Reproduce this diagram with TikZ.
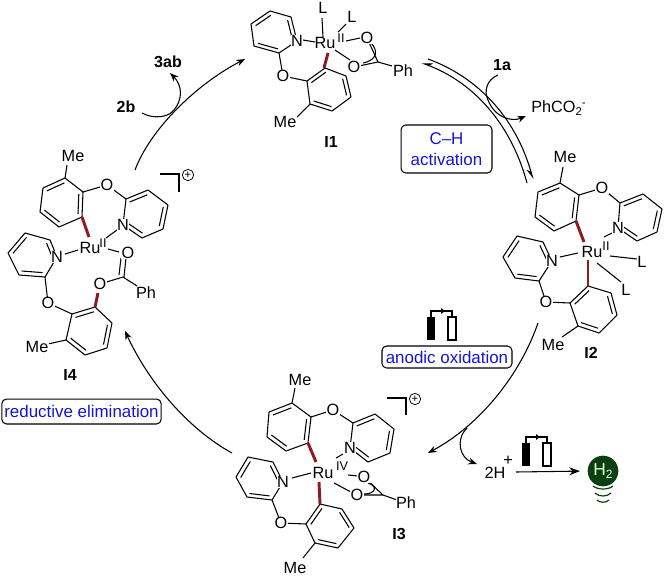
\documentclass[tikz,border=0pt]{standalone}
\usepackage{fontspec}
\setmainfont{Liberation Sans}
\usetikzlibrary{calc,arrows.meta}
\definecolor{rubond}{HTML}{8E1B1F}
\definecolor{bulbgreen}{HTML}{0B4010}
\definecolor{labelblue}{HTML}{1414D2}
\tikzset{
 bond/.style={line width=0.8pt,black,line join=round},
 redbond/.style={line width=2.2pt,rubond},
 atomlbl/.style={font=\fontsize{12.2}{13}\selectfont,inner sep=0.2pt,fill=white},
 sup/.style={font=\fontsize{9.5}{10}\selectfont,inner sep=0pt},
 cpdlbl/.style={font=\fontsize{12}{13}\selectfont\bfseries,inner sep=0pt},
 bluebox/.style={draw,line width=0.8pt,rounded corners=3.5pt,text=labelblue,font=\fontsize{12.7}{15.5}\selectfont,align=center,inner sep=0pt},
 cyc/.style={line width=0.8pt,-{Stealth[length=6.5pt,width=5pt]}},
 brk/.style={line width=0.8pt},
 plusc/.style={circle,draw,line width=0.55pt,minimum size=8.5pt,inner sep=0pt,font=\fontsize{8.5}{8.5}\selectfont},
}
\newcommand\ring[6]{%
 \draw[bond] (#1)--(#2)--(#3)--(#4)--(#5)--(#6)--cycle;
 \path coordinate (rc) at ($(#1)!.5!(#4)$);
 \draw[bond] ($(#1)!.2!(rc)$)--($(#2)!.2!(rc)$);
 \draw[bond] ($(#3)!.2!(rc)$)--($(#4)!.2!(rc)$);
 \draw[bond] ($(#5)!.2!(rc)$)--($(#6)!.2!(rc)$);
}
\newcommand\atom[3]{\node[atomlbl] (#1) at (#2) {#3};}
\newcommand\battery[3]{%
 \coordinate (#1a) at ($(#2,#3)+(-12.5,0)$);
 \coordinate (#1b) at ($(#2,#3)+(8.5,0)$);
 \draw[line width=0.8pt] (#1a) -- ++(0,-6) -- ($(#1b)+(0,-6)$) -- (#1b);
 \fill ($(#2,#3)+(-2.5,-9)$) -- ($(#2,#3)+(1.5,-6)$) -- ($(#2,#3)+(-2.5,-3)$) -- cycle;
 \fill[black] ($(#1a)+(-4,0)$) rectangle ($(#1a)+(4,23)$);
 \draw[line width=0.85pt,fill=white] ($(#1b)+(-4,0)$) rectangle ($(#1b)+(4,23)$);
}
\begin{document}
\begin{tikzpicture}[x=0.75pt,y=-0.75pt]
\useasboundingbox (0,0) rectangle (665,576);

% ---------- I1 ----------
\ring{297,41}{291,17}{270,11}{251,24}{254,46}{279,53}
\ring{307,81}{325,68}{346,76}{351,97}{332,111}{310,104}
\draw[bond] (279,53)--(283,76)--(307,81);
\draw[bond] (310,104)--(297,117);
\draw[bond] (303,40)--(315,42);
\draw[bond] (322,18)--(323,37);
\draw[bond] (338,32)--(346,24);
\draw[bond] (346,41)--(360,38);
\draw[bond] (335,50)--(350,60);
\draw[bond] (367,38)--(378,62)--(354,67);
\draw[bond] (378,62)--(392,66);
\draw[bond] (371,43) .. controls (378,50) and (378,60) .. (363,63);
\draw[redbond] (328,53)--(324,68);
\atom{i1N}{297,41}{N}
\atom{i1O}{283,76}{O}
\atom{i1Me}{285,122}{Me}
\node[atomlbl,fill=none] (i1Ru) at (325,43) {Ru};
\node[sup] (i1ox) at (341,38) {II};
\atom{i1La}{323,8}{L}
\atom{i1Lb}{352,17}{L}
\atom{i1Oa}{367,38}{O}
\atom{i1Ob}{354,67}{O}
\atom{i1Ph}{403,71}{Ph}
\node[cpdlbl] (i1lbl) at (331,142) {I1};

% ---------- I2 ----------
\ring{560,183}{538,192}{535,217}{554,231}{576,221}{579,195}
\ring{620,203}{643,194}{662,209}{657,232}{637,241}{618,228}
\ring{552,261}{543,242}{517,236}{503,257}{515,278}{539,281}
\ring{570,303}{588,286}{611,293}{617,315}{599,333}{578,326}
\draw[bond] (560,183)--(563,167);
\draw[bond] (579,195)--(602,188)--(620,203);
\draw[bond] (604,237)--(612,233);
\draw[bond] (560,257)--(578,253);
\draw[bond] (610,256)--(637,259);
\draw[bond] (597,263)--(621,282);
\draw[bond] (539,281)--(546,302)--(570,303);
\draw[bond] (578,326)--(562,337);
\draw[redbond] (576,221)--(584,242);
\draw[redbond] (588,260)--(588,286);
\atom{i2Me}{565,157}{Me}
\atom{i2Oa}{602,188}{O}
\atom{i2Na}{618,228}{N}
\node[atomlbl,fill=none] (i2Ru) at (592,252) {Ru};
\node[sup] (i2ox) at (606,246) {II};
\atom{i2La}{642,262}{L}
\atom{i2Lb}{626,290}{L}
\atom{i2Nb}{552,261}{N}
\atom{i2Ob}{546,302}{O}
\atom{i2Mb}{553,345}{Me}
\node[cpdlbl] (i2lbl) at (591,353) {I2};

% ---------- I3 ----------
\ring{292,403}{269,412}{267,437}{286,451}{308,443}{311,417}
\ring{353,423}{375,414}{394,429}{390,453}{368,462}{350,448}
\ring{283,482}{273,462}{248,457}{236,477}{247,497}{272,500}
\ring{306,524}{320,504}{342,509}{354,528}{338,548}{315,543}
\draw[bond] (292,403)--(295,388);
\draw[bond] (311,417)--(333,410)--(353,423);
\draw[bond] (336,458)--(343,454);
\draw[bond] (292,478)--(311,473);
\draw[bond] (272,500)--(281,523)--(306,524);
\draw[bond] (315,543)--(303,558);
\draw[bond] (348,475)--(358,476);
\draw[bond] (334,483)--(351,492);
\draw[bond] (364,477)--(383,495)--(357,495);
\draw[bond] (383,495)--(397,500);
\draw[bond] (368,483) .. controls (378,486) and (376,494) .. (364,494);
\draw[redbond] (308,443)--(316,462);
\draw[redbond] (319,482)--(320,504);
\atom{i3Me}{300,380}{Me}
\atom{i3Oa}{333,410}{O}
\atom{i3Na}{350,448}{N}
\node[atomlbl,fill=none] (i3Ru) at (323,473) {Ru};
\node[sup] (i3ox) at (342,466) {IV};
\atom{i3Nb}{283,482}{N}
\atom{i3Ob}{281,523}{O}
\atom{i3Mb}{295,568}{Me}
\atom{i3Oc}{364,477}{O}
\atom{i3Od}{357,495}{O}
\atom{i3Ph}{406,503}{Ph}
\node[cpdlbl] (i3lbl) at (399,534) {I3};
\draw[brk] (387,398)--(406,398)--(406,415);
\node[plusc] (i3plus) at (415,399) {+};

% ---------- I4 ----------
\ring{65,178}{43,188}{40,212}{59,227}{82,217}{83,192}
\ring{126,199}{148,190}{168,205}{163,229}{142,238}{123,225}
\ring{57,257}{50,240}{25,233}{8,253}{19,275}{45,277}
\ring{72,314}{95,307}{112,323}{107,348}{85,355}{66,340}
\draw[bond] (65,178)--(67,165);
\draw[bond] (83,192)--(107,185)--(126,199);
\draw[bond] (117,230)--(106,238);
\draw[bond] (65,254)--(78,250);
\draw[bond] (108,249)--(119,252);
\draw[bond] (126,258)--(124,277);
\draw[bond] (121,258)--(119,275);
\draw[bond] (100,284)--(123,277)--(137,286);
\draw[bond] (45,277)--(48,303)--(72,314);
\draw[bond] (66,340)--(48,344);
\draw[redbond] (82,217)--(89,237);
\draw[redbond] (98,293)--(95,307);
\atom{i4Me}{73,156}{Me}
\atom{i4Oa}{107,185}{O}
\atom{i4Na}{123,225}{N}
\node[atomlbl,fill=none] (i4Ru) at (90,248) {Ru};
\node[sup] (i4ox) at (103,243) {II};
\atom{i4Oc}{128,253}{O}
\atom{i4Od}{100,284}{O}
\atom{i4Ph}{146,293}{Ph}
\atom{i4Nb}{57,257}{N}
\atom{i4Ob}{48,303}{O}
\atom{i4Mb}{37,347}{Me}
\node[cpdlbl] (i4lbl) at (70,375) {I4};
\draw[brk] (160,174)--(179,174)--(179,192);
\node[plusc] (i4plus) at (188,175) {+};

% ---------- cycle arrows ----------
\coordinate (eqa) at (428,59);
\coordinate (eqb) at (533,179);
\coordinate (eqc) at (527,183);
\coordinate (eqd) at (422,63);
\draw[line width=0.8pt,-{Stealth[harpoon,swap,length=7pt,width=5.5pt]}] (eqa) .. controls (475,76) and (515,115) .. (eqb);
\draw[line width=0.8pt,-{Stealth[harpoon,swap,length=7pt,width=5.5pt]}] (eqc) .. controls (510,120) and (470,81) .. (eqd);

\coordinate (mid1) at (488,100);
\coordinate (st1) at (498,75);
\coordinate (en1) at (526,116);
\draw[cyc] (st1) .. controls (486,80) and (484,92) .. (mid1) .. controls (495,118) and (512,122) .. (en1);
\node[cpdlbl] (lbl1a) at (502,65) {1a};
\node[font=\fontsize{12.2}{13}\selectfont,inner sep=0pt,anchor=west] (lblPhCO) at (531,108) {PhCO\raisebox{-2.5pt}{\fontsize{8.5}{9}\selectfont 2}\raisebox{4.5pt}{\fontsize{8.5}{9}\selectfont -}};

\coordinate (st2) at (135,170);
\coordinate (en2) at (245,59);
\draw[cyc] (st2) .. controls (150,130) and (195,85) .. (en2);
\coordinate (st3) at (142,113);
\coordinate (mid3) at (172,112);
\coordinate (en3) at (170,73);
\draw[cyc] (st3) .. controls (155,120) and (168,116) .. (mid3) .. controls (184,100) and (182,85) .. (en3);
\node[cpdlbl] (lbl2b) at (126,107) {2b};
\node[cpdlbl] (lbl3ab) at (168,62) {3ab};

\coordinate (st4) at (232,453);
\coordinate (en4) at (125,331);
\draw[cyc] (st4) .. controls (190,430) and (150,385) .. (en4);

\coordinate (st5) at (538,323);
\coordinate (en5) at (428,453);
\draw[cyc] (st5) .. controls (520,375) and (480,425) .. (en5);
\coordinate (st6) at (467,428);
\coordinate (en6) at (477,464);
\draw[cyc] (st6) .. controls (455,440) and (460,458) .. (en6);

% ---------- boxes ----------
\node[bluebox,minimum width=119.5pt,minimum height=18.7pt] (boxRE) at (81.5,411.5) {reductive elimination};
\node[bluebox,minimum width=97.5pt,minimum height=16.5pt] (boxAO) at (447,357) {anodic oxidation};
\node[bluebox,minimum width=68.2pt,minimum height=36pt] (boxCH) at (446.5,149) {C--H\\activation};

% ---------- electrolysis ----------
\battery{t}{443.5}{317}
\battery{b}{538.5}{443}
\node[font=\fontsize{12.2}{13}\selectfont,inner sep=0pt] (lbl2H) at (495,473) {2H};
\node[font=\fontsize{12.2}{13}\selectfont,inner sep=0pt] (lblplus) at (508,461) {+};
\node[circle,fill=bulbgreen,minimum size=23pt,inner sep=0pt,text=white!88!green,font=\fontsize{13}{14}\selectfont] (bulb) at (603,471) {H\raisebox{-2.5pt}{\fontsize{9}{10}\selectfont 2}};
\coordinate (st7) at (516,472);
\draw[line width=0.8pt,shorten >=5.6pt,-{Stealth[length=8pt,width=6pt]}] (st7) -- (bulb.west);
\draw[line width=0.9pt,bulbgreen] (593,486) .. controls (598,490) and (608,490) .. (613,486);
\draw[line width=0.9pt,bulbgreen] (595,493) .. controls (599,497) and (607,497) .. (611,493);
\draw[line width=0.9pt,bulbgreen] (597,500) .. controls (600,503) and (606,503) .. (609,500);
\end{tikzpicture}
\end{document}
